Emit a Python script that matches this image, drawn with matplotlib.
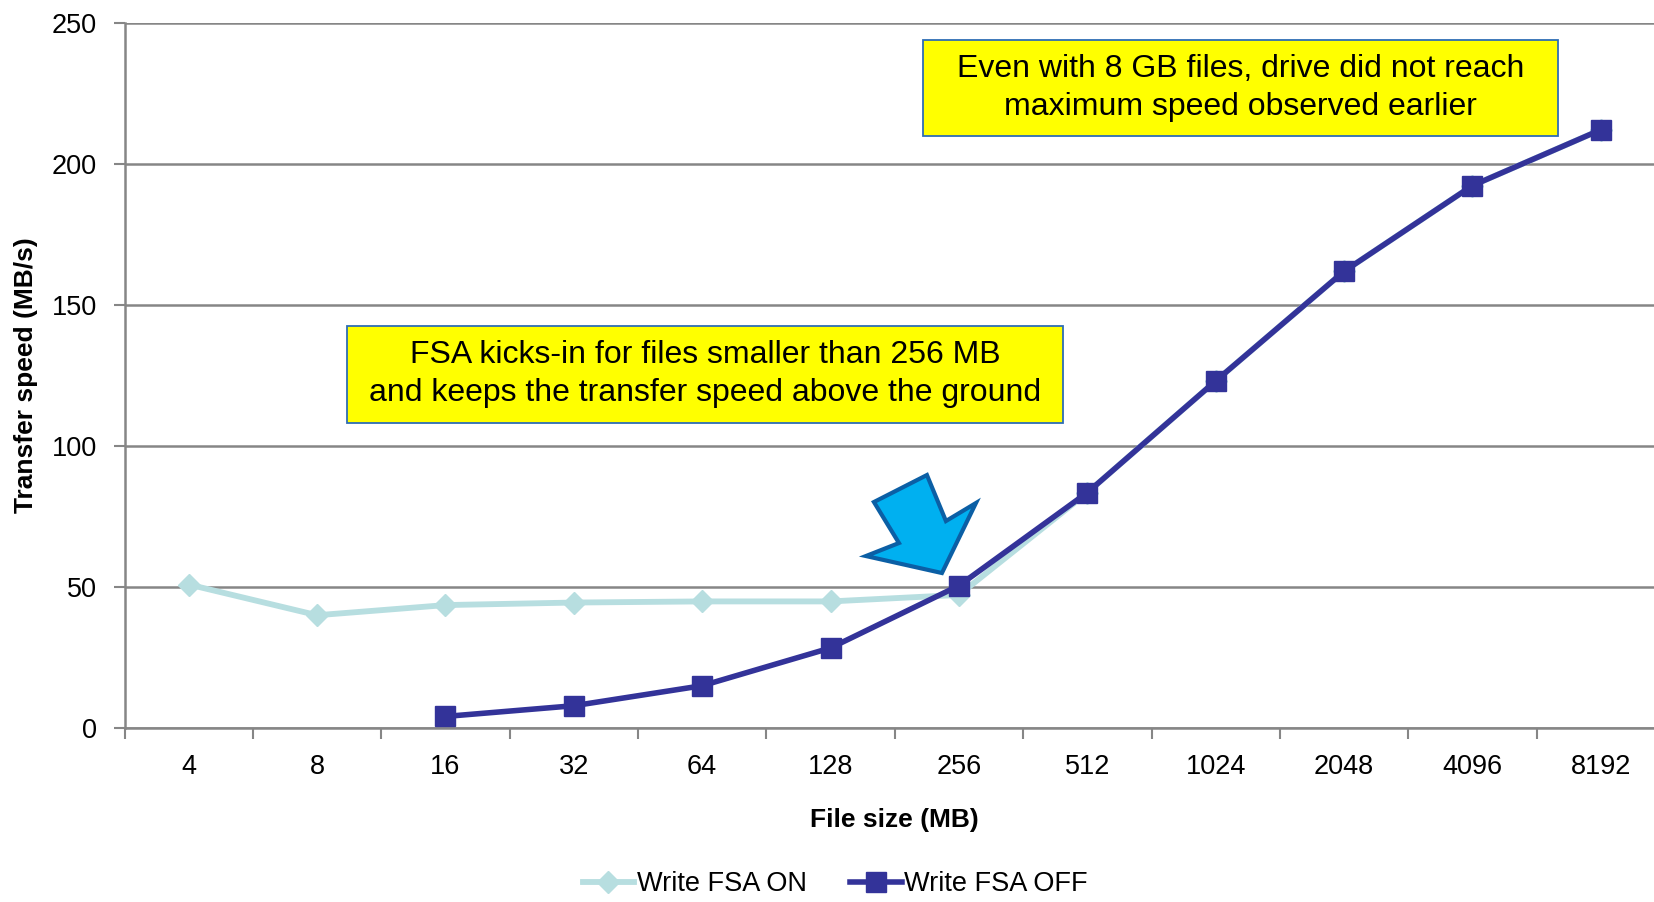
import numpy as np
import matplotlib
matplotlib.use("Agg")
import matplotlib.pyplot as plt
import matplotlib.transforms as mtransforms
from matplotlib.patches import Polygon, Rectangle

plt.rcParams['font.family'] = ['Liberation Sans', 'DejaVu Sans']

# File sizes (MB) and measured write speeds (MB/s)
file_sizes = ["4", "8", "16", "32", "64", "128", "256", "512", "1024", "2048", "4096", "8192"]
write_fsa_on = [50.9, 40.0, 43.6, 44.5, 44.9, 44.9, 47.2, 83.5, 123.1, 162.0, 192.4, 212.2]
write_fsa_off = [np.nan, np.nan, 4.1, 7.9, 15.0, 28.4, 50.5, 83.5, 123.1, 162.0, 192.4, 212.2]

note_fsa = "FSA kicks-in for files smaller than 256 MB\nand keeps the transfer speed above the ground"
note_8gb = "Even with 8 GB files, drive did not reach\nmaximum speed observed earlier"

grid_col = "#868686"

fig = plt.figure(figsize=(16.54, 9.02), dpi=100)
ax = fig.add_axes([124.5 / 1654, 174 / 902, 1540.5 / 1654, 704.8 / 902])

x = np.arange(len(file_sizes))
ax.plot(x, write_fsa_on, color="#B7DEE0", lw=4.2, marker="D", ms=11,
        label="Write FSA ON", zorder=3)
ax.plot(x, write_fsa_off, color="#333399", lw=4.0, marker="s", ms=14.5,
        label="Write FSA OFF", zorder=4)

ax.set_xlim(-0.5, len(file_sizes) - 0.5)
ax.set_ylim(0, 250)
ax.set_yticks(np.arange(0, 251, 50))
ax.set_xticks(x)
ax.set_xticklabels(file_sizes)
ax.set_xticks(np.arange(-0.5, len(file_sizes), 1.0), minor=True)
ax.tick_params(axis="x", which="major", length=0, pad=19, labelsize=19.5)
ax.tick_params(axis="x", which="minor", length=8, width=1.5, color=grid_col)
ax.tick_params(axis="y", length=8, width=1.5, color=grid_col, labelsize=19.5, pad=12)
ax.grid(axis="y", color=grid_col, lw=1.8, zorder=0)
ax.set_axisbelow(True)

for side in ["top", "right"]:
    ax.spines[side].set_visible(False)
for side in ["left", "bottom"]:
    ax.spines[side].set_color(grid_col)
    ax.spines[side].set_linewidth(1.8)

ax.set_xlabel("File size (MB)", fontsize=19, fontweight="bold", labelpad=20)
ax.set_ylabel("Transfer speed (MB/s)", fontsize=19, fontweight="bold", labelpad=10)

# Callout boxes: (x0, x1, y0, y1) in category / speed units
callouts = [
    (note_fsa, (1.234, 6.81, 108.2, 142.6)),
    (note_8gb, (5.72, 10.67, 210.0, 244.0)),
]
for text, (x0, x1, y0, y1) in callouts:
    ax.add_patch(Rectangle((x0, y0), x1 - x0, y1 - y0, fc="#FFFF00",
                           ec="#2E6DB4", lw=1.3, zorder=5))
    ax.text((x0 + x1) / 2, (y0 + y1) / 2, text, fontsize=23, ha="center",
            va="center", linespacing=1.35, zorder=6)

# Block arrow pointing at the 256 MB point (pixel offsets from that point)
arrow_px = [(-85, -83.6), (-32, -110.6), (-13, -64.6), (17, -82.6),
            (-17, -12.6), (-93, -29.6), (-60, -42.6)]
idx = file_sizes.index("256")
tr = mtransforms.Affine2D().scale(1, -1) + \
    mtransforms.ScaledTranslation(idx, write_fsa_off[idx], ax.transData)
arrow = Polygon(arrow_px, closed=True, transform=tr, fc="#00B0F0",
                ec="#0B5FA5", lw=3, joinstyle="miter", zorder=6, clip_on=False)
ax.add_patch(arrow)

fig.legend(loc="lower center", bbox_to_anchor=(0.505, -0.022), ncol=2,
           frameon=False, fontsize=19.5, handlelength=1.9, handletextpad=0.1,
           columnspacing=1.6)

fig.savefig("out.png", dpi=100)
